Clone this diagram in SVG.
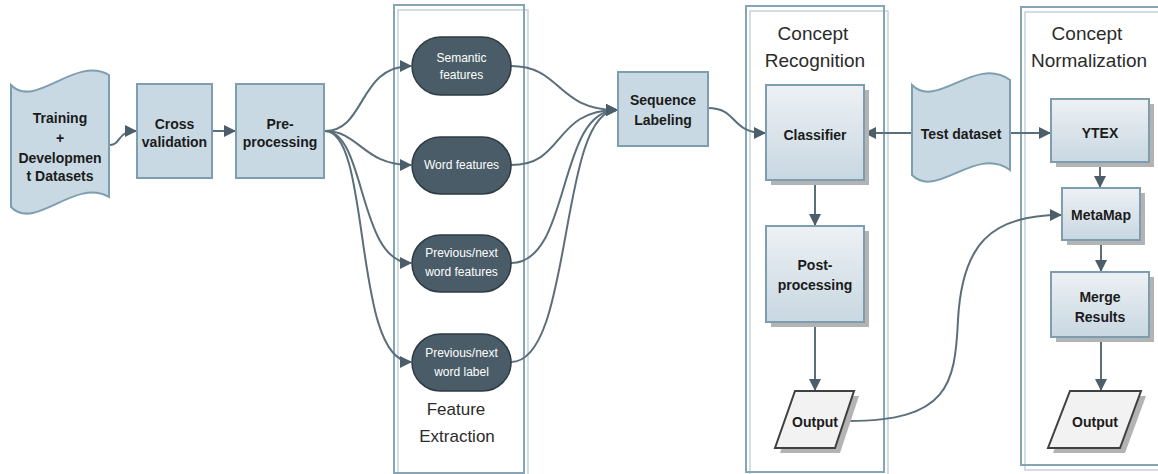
<svg xmlns="http://www.w3.org/2000/svg" width="1158" height="474" viewBox="0 0 1158 474">
<defs>
<linearGradient id="g" x1="0" y1="0" x2="0" y2="1"><stop offset="0" stop-color="#edf1f4"/><stop offset="1" stop-color="#c8d7e1"/></linearGradient>
<marker id="ah" viewBox="0 0 12 12" refX="11" refY="6" markerWidth="12" markerHeight="12" markerUnits="userSpaceOnUse" orient="auto"><path d="M0,0 L12,6 L0,12 Z" fill="#4b5e69"/></marker>
<style>
.c{fill:none;stroke:#5b6f7a;stroke-width:2;marker-end:url(#ah)}
.flat{fill:#c9d9e3;stroke:#7d9db0;stroke-width:2}
.gr{fill:url(#g);stroke:#7d9db0;stroke-width:2}
.sh{fill:#b3b3b3}
.pill{fill:#4a5c67;stroke:#2e3b43;stroke-width:1.5}
.frame{fill:none;stroke:#86a5b7;stroke-width:2}
.frame2{fill:none;stroke:#c3d3dc;stroke-width:1.5}
.bt{font-family:"Liberation Sans",Arial,sans-serif;font-weight:bold;font-size:14px;fill:#1b1b1b;text-anchor:middle}
.pt{font-family:"Liberation Sans",Arial,sans-serif;font-size:12px;fill:#ffffff;text-anchor:middle}
.lt{font-family:"Liberation Sans",Arial,sans-serif;font-size:19px;fill:#2b2b2b;text-anchor:middle}
.out{fill:#f2f2f2;stroke:#404040;stroke-width:2}
</style>
</defs>

<g id="frames">
<rect class="frame2" x="398" y="10" width="130" height="466"/>
<rect class="frame" x="394" y="5" width="130" height="468"/>
<rect class="frame2" x="750" y="11" width="138" height="466"/>
<rect class="frame" x="746" y="6" width="138" height="466"/>
<rect class="frame2" x="1025" y="12" width="150" height="458"/>
<rect class="frame" x="1021" y="7" width="150" height="458"/>
</g>

<g id="connectors">
<path class="c" d="M110,145 C121,145 117,131 136,131"/>
<path class="c" d="M212,131 L235,131"/>
<path class="c" d="M325,131 C366,131 358,66 411,66"/>
<path class="c" d="M325,131 C360,131 362,165 411,165"/>
<path class="c" d="M325,131 C366,131 358,263 411,263"/>
<path class="c" d="M325,131 C372,131 352,362 411,362"/>
<path class="c" d="M511,66 C562,66 556,110 617,110"/>
<path class="c" d="M511,165 C566,165 552,110 617,110"/>
<path class="c" d="M511,263 C572,263 556,110 617,110"/>
<path class="c" d="M511,362 C574,362 558,110 617,110"/>
<path class="c" d="M708,108 C738,108 730,133 765,133"/>
<path class="c" d="M912,133 L865,133"/>
<path class="c" d="M1010,133 L1050,133"/>
<path class="c" d="M815,181 L815,225"/>
<path class="c" d="M815,323 L815,390"/>
<path class="c" d="M848,421 C948,421 955,385 958,320 C962,245 990,215 1061,215"/>
<path class="c" d="M1100,162 L1100,187"/>
<path class="c" d="M1101,241 L1101,271"/>
<path class="c" d="M1101,338 L1101,390"/>
</g>

<g id="training">
<path class="flat" d="M11,85 C35,110 75,55 109,75 L109,197 C75,177 35,232 11,207 Z"/>
<text class="bt" x="60" y="123">Training</text>
<text class="bt" x="60" y="143">+</text>
<text class="bt" x="60" y="163">Developmen</text>
<text class="bt" x="60" y="181">t Datasets</text>
</g>

<g id="cross">
<rect class="flat" x="137" y="84" width="75" height="94"/>
<text class="bt" x="174.5" y="129">Cross</text>
<text class="bt" x="174.5" y="147">validation</text>
</g>

<g id="pre">
<rect class="flat" x="236" y="84" width="88" height="94"/>
<text class="bt" x="280" y="129">Pre-</text>
<text class="bt" x="280" y="147">processing</text>
</g>

<g id="semantic">
<rect class="pill" x="412" y="37" width="99" height="58" rx="29"/>
<text class="pt" x="461.5" y="62">Semantic</text>
<text class="pt" x="461.5" y="79">features</text>
</g>
<g id="word">
<rect class="pill" x="412" y="137" width="99" height="57" rx="28.5"/>
<text class="pt" x="461.5" y="169">Word features</text>
</g>
<g id="prevfeat">
<rect class="pill" x="412" y="235" width="99" height="57" rx="28.5"/>
<text class="pt" x="461.5" y="257">Previous/next</text>
<text class="pt" x="461.5" y="276">word features</text>
</g>
<g id="prevlabel">
<rect class="pill" x="412" y="334" width="99" height="57" rx="28.5"/>
<text class="pt" x="461.5" y="357">Previous/next</text>
<text class="pt" x="461.5" y="376">word label</text>
</g>
<g id="fe-label">
<text class="lt" style="font-size:17px" x="456" y="415">Feature</text>
<text class="lt" style="font-size:17px" x="457" y="442">Extraction</text>
</g>

<g id="sequence">
<rect class="flat" x="618" y="72" width="90" height="74"/>
<text class="bt" x="663" y="105">Sequence</text>
<text class="bt" x="663" y="125">Labeling</text>
</g>

<g id="cr-label">
<text class="lt" x="813" y="40">Concept</text>
<text class="lt" x="815" y="67">Recognition</text>
</g>

<g id="classifier">
<rect class="sh" x="771" y="90" width="98" height="95"/>
<rect class="gr" x="766" y="85" width="98" height="95"/>
<text class="bt" x="815" y="140">Classifier</text>
</g>

<g id="post">
<rect class="sh" x="771" y="231" width="98" height="96"/>
<rect class="gr" x="766" y="226" width="98" height="96"/>
<text class="bt" x="815" y="270">Post-</text>
<text class="bt" x="815" y="290">processing</text>
</g>

<g id="output1">
<path class="sh" d="M800,396 L859,396 L840,453 L780,453 Z"/>
<path class="out" d="M795,391 L854,391 L835,448 L775,448 Z"/>
<text class="bt" x="815" y="427">Output</text>
</g>

<g id="test">
<path class="flat" d="M912,85 C937,110 975,55 1010,80 L1010,170 C975,145 937,200 912,175 Z"/>
<text class="bt" x="961" y="139">Test dataset</text>
</g>

<g id="cn-label">
<text class="lt" x="1087" y="40">Concept</text>
<text class="lt" x="1089" y="67">Normalization</text>
</g>

<g id="ytex">
<rect class="sh" x="1056" y="104" width="98" height="63"/>
<rect class="gr" x="1051" y="99" width="98" height="63"/>
<text class="bt" x="1100" y="138">YTEX</text>
</g>

<g id="metamap">
<rect class="sh" x="1067" y="193" width="78" height="52"/>
<rect class="gr" x="1062" y="188" width="78" height="52"/>
<text class="bt" x="1101" y="220">MetaMap</text>
</g>

<g id="merge">
<rect class="sh" x="1056" y="277" width="98" height="65"/>
<rect class="gr" x="1051" y="272" width="98" height="65"/>
<text class="bt" x="1100" y="302">Merge</text>
<text class="bt" x="1100" y="322">Results</text>
</g>

<g id="output2">
<path class="sh" d="M1075,396 L1146,396 L1125,453 L1053,453 Z"/>
<path class="out" d="M1070,391 L1141,391 L1120,448 L1048,448 Z"/>
<text class="bt" x="1095" y="427">Output</text>
</g>
</svg>
